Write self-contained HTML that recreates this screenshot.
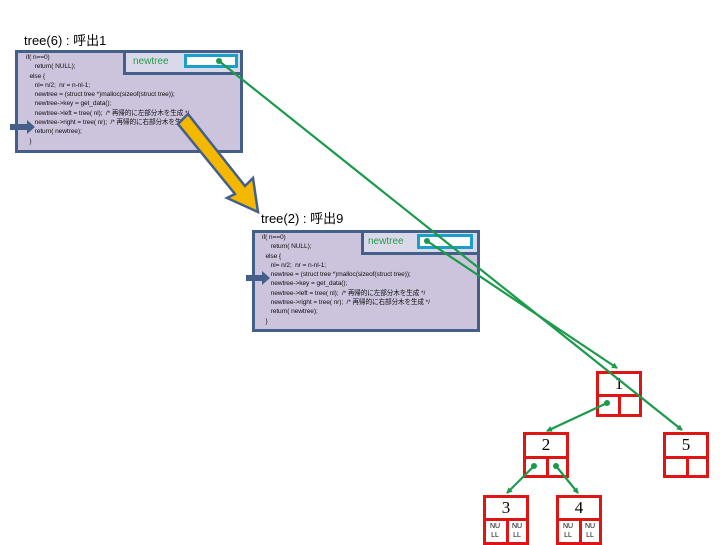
<!DOCTYPE html><html><head><meta charset="utf-8"><style>
body{margin:0;width:720px;height:540px;background:#fff;position:relative;overflow:hidden;font-family:"Liberation Sans","Noto Sans CJK JP",sans-serif}
.t{position:absolute;font-size:13px;color:#000}
.box{position:absolute;background:#ccc3dd;border:3px solid #44608a;box-sizing:border-box}
.code{position:absolute;font-size:6.6px;line-height:9.3px;white-space:pre;color:#111;letter-spacing:-0.1px}
.nt{position:absolute;background:#d9d9ea;border:3px solid #44608a;box-sizing:border-box;color:#2a9a4a;font-size:10px}
.fld{position:absolute;background:#fff;border:3px solid #1aa0c8;box-sizing:border-box}
.n{position:absolute;border:3px solid #dd1515;box-sizing:border-box;background:#fff}
.n .k{position:absolute;left:0;right:0;top:0;text-align:center;font-family:"Liberation Serif",serif;font-size:17px}
.n .h{position:absolute;left:0;right:0;border-top:3px solid #dd1515}
.n .v{position:absolute;width:0;border-left:3px solid #dd1515;bottom:0}
.nl{position:absolute;font-size:7px;line-height:9px;text-align:center;width:18px}
</style></head><body>
<div class="t" style="left:24px;top:30px">tree(6) : 呼出1</div>
<div class="box" style="left:15px;top:50px;width:228px;height:103px"></div>
<div class="code" style="left:26px;top:53px">if( n==0)
     return( NULL);
  else {
     nl= n/2;  nr = n-nl-1;
     newtree = (struct tree *)malloc(sizeof(struct tree));
     newtree->key = get_data();
     newtree->left = tree( nl);  /* 再帰的に左部分木を生成 */
     newtree->right = tree( nr);  /* 再帰的に右部分木を生成 */
     return( newtree);
  }</div>
<div class="nt" style="left:123px;top:50px;width:120px;height:25px;padding:3px 0 0 7px">newtree</div>
<div class="fld" style="left:184px;top:54px;width:54px;height:14px"></div>

<div class="t" style="left:261px;top:208px">tree(2) : 呼出9</div>
<div class="box" style="left:252px;top:230px;width:228px;height:102px"></div>
<div class="code" style="left:262px;top:233px">if( n==0)
     return( NULL);
  else {
     nl= n/2;  nr = n-nl-1;
     newtree = (struct tree *)malloc(sizeof(struct tree));
     newtree->key = get_data();
     newtree->left = tree( nl);  /* 再帰的に左部分木を生成 */
     newtree->right = tree( nr);  /* 再帰的に右部分木を生成 */
     return( newtree);
  }</div>
<div class="nt" style="left:361px;top:230px;width:119px;height:25px;padding:3px 0 0 4px">newtree</div>
<div class="fld" style="left:417px;top:234px;width:56px;height:15px"></div>

<div class="n" style="left:596px;top:371px;width:46px;height:46px"><div class="k">1</div><div class="h" style="top:20px"></div><div class="v" style="left:19px;top:23px;height:20px"></div></div>
<div class="n" style="left:523px;top:432px;width:46px;height:46px"><div class="k">2</div><div class="h" style="top:21px"></div><div class="v" style="left:20px;top:24px;height:19px"></div></div>
<div class="n" style="left:663px;top:432px;width:46px;height:46px"><div class="k">5</div><div class="h" style="top:21px"></div><div class="v" style="left:20px;top:24px;height:19px"></div></div>
<div class="n" style="left:483px;top:495px;width:46px;height:50px"><div class="k">3</div><div class="h" style="top:20px"></div><div class="v" style="left:20px;top:23px;height:24px"></div>
<div class="nl" style="left:0;top:24px">NU<br>LL</div><div class="nl" style="left:22px;top:24px">NU<br>LL</div></div>
<div class="n" style="left:556px;top:495px;width:46px;height:50px"><div class="k">4</div><div class="h" style="top:20px"></div><div class="v" style="left:20px;top:23px;height:24px"></div>
<div class="nl" style="left:0;top:24px">NU<br>LL</div><div class="nl" style="left:22px;top:24px">NU<br>LL</div></div>

<svg width="720" height="540" style="position:absolute;left:0;top:0">
<defs><marker id="g" markerWidth="6" markerHeight="6" refX="5" refY="3" orient="auto" markerUnits="userSpaceOnUse"><path d="M0,0L6,3L0,6z" fill="#1a9a4a"/></marker></defs>
<g stroke="#1a9a4a" stroke-width="2.2" fill="none">
<line x1="219" y1="61" x2="682" y2="430" marker-end="url(#g)"/>
<line x1="427" y1="241" x2="617" y2="368" marker-end="url(#g)"/>
<line x1="607" y1="403" x2="547" y2="431" marker-end="url(#g)"/>
<line x1="534" y1="466" x2="507" y2="493" marker-end="url(#g)"/>
<line x1="556" y1="466" x2="578" y2="493" marker-end="url(#g)"/>
</g>
<g fill="#1a9a4a"><circle cx="219" cy="61" r="3"/><circle cx="427" cy="241" r="3"/><circle cx="607" cy="403" r="3"/><circle cx="534" cy="466" r="3"/><circle cx="556" cy="466" r="3"/></g>
<polygon points="178,124 188,114 245,186 253,178 258,212 227,198 235,194" fill="#f5b800" stroke="#44608a" stroke-width="2.5"/>
<polygon points="10,124 27,124 27,120 35,127 27,134 27,130 10,130" fill="#44608a"/>
<polygon points="246,275 262,275 262,271 270,278 262,285 262,281 246,281" fill="#44608a"/>
</svg>
</body></html>
